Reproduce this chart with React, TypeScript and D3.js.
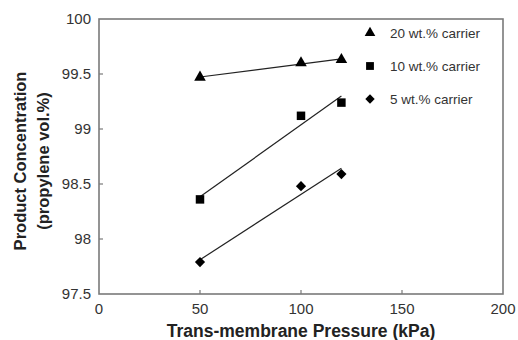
import React from "react";
import * as d3 from "d3";

const pressure = [50, 100, 120];
const series = [
  { name: "20 wt.% carrier", symbol: "triangle", values: [99.47, 99.6, 99.63] },
  { name: "10 wt.% carrier", symbol: "square", values: [98.36, 99.12, 99.24] },
  { name: "5 wt.% carrier", symbol: "diamond", values: [97.79, 98.48, 98.59] },
];
const xTicks = [0, 50, 100, 150, 200];
const yTicks = [97.5, 98, 98.5, 99, 99.5, 100];

const width = 518;
const height = 340;
const margin = { top: 19, right: 15, bottom: 46, left: 99 };

// least squares fit, as drawn in the original
function fit(xs: number[], ys: number[]) {
  const mx = d3.mean(xs)!;
  const my = d3.mean(ys)!;
  let sxy = 0;
  let sxx = 0;
  xs.forEach((x, i) => {
    sxy += (x - mx) * (ys[i] - my);
    sxx += (x - mx) * (x - mx);
  });
  const b = sxy / sxx;
  return (x: number) => my + b * (x - mx);
}

// marker path + extra rotation (diamond = square turned 45deg)
function marker(kind: string, scale: number) {
  if (kind === "square") return { d: d3.symbol(d3.symbolSquare, 72 * scale)() || "", rot: 0 };
  if (kind === "diamond") return { d: d3.symbol(d3.symbolSquare, 52 * scale)() || "", rot: 45 };
  return { d: d3.symbol(d3.symbolTriangle, 58 * scale)() || "", rot: 0 };
}

export default function App() {
  const x = d3.scaleLinear().domain([0, 200]).range([margin.left, width - margin.right]);
  const y = d3.scaleLinear().domain([97.5, 100]).range([height - margin.bottom, margin.top]);
  const line = d3.line<[number, number]>().x((d) => x(d[0])).y((d) => y(d[1]));
  const font = "Arial, 'Liberation Sans', sans-serif";

  return (
    <svg
      width={width}
      height={height}
      style={{ position: "absolute", left: 0, top: 0, background: "#fff" }}
      fontFamily={font}
    >
      <rect
        x={x(0)}
        y={y(100)}
        width={x(200) - x(0)}
        height={y(97.5) - y(100)}
        fill="none"
        stroke="#7a7a7a"
        strokeWidth={1.6}
      />
      {xTicks.map((t) => (
        <g key={"x" + t}>
          {t > 0 && t < 200 && (
            <line x1={x(t)} x2={x(t)} y1={y(97.5)} y2={y(97.5) - 4} stroke="#7a7a7a" strokeWidth={1.2} />
          )}
          <text x={x(t)} y={314} textAnchor="middle" fontSize={15} fill="#333">
            {t}
          </text>
        </g>
      ))}
      {yTicks.map((t) => (
        <g key={"y" + t}>
          {t > 97.5 && t < 100 && (
            <line x1={x(0)} x2={x(0) + 4} y1={y(t)} y2={y(t)} stroke="#7a7a7a" strokeWidth={1.2} />
          )}
          <text x={91} y={y(t)} dy="0.35em" textAnchor="end" fontSize={15} fill="#333">
            {t}
          </text>
        </g>
      ))}
      {series.map((s) => {
        const f = fit(pressure, s.values);
        const x0 = pressure[0];
        const x1 = pressure[pressure.length - 1];
        const m = marker(s.symbol, 1);
        return (
          <g key={s.name}>
            <path d={line([[x0, f(x0)], [x1, f(x1)]]) || ""} stroke="#222" strokeWidth={1.2} fill="none" />
            {pressure.map((p, i) => (
              <path
                key={p}
                d={m.d}
                transform={`translate(${x(p)},${y(s.values[i])}) rotate(${m.rot})`}
                fill="#000"
              />
            ))}
          </g>
        );
      })}
      {series.map((s, i) => {
        const m = marker(s.symbol, 0.85);
        const ly = 33 + i * 33;
        return (
          <g key={"l" + s.name}>
            <path d={m.d} transform={`translate(370,${ly}) rotate(${m.rot})`} fill="#000" />
            <text x={390} y={ly} dy="0.35em" fontSize={13.5} fill="#333">
              {s.name}
            </text>
          </g>
        );
      })}
      <text x={301} y={337} textAnchor="middle" fontSize={17.5} fontWeight="bold" fill="#222">
        Trans-membrane Pressure (kPa)
      </text>
      <text
        transform="translate(26,161) rotate(-90)"
        textAnchor="middle"
        fontSize={16.5}
        fontWeight="bold"
        fill="#222"
      >
        Product Concentration
      </text>
      <text
        transform="translate(49,161) rotate(-90)"
        textAnchor="middle"
        fontSize={16.5}
        fontWeight="bold"
        fill="#222"
      >
        (propylene vol.%)
      </text>
    </svg>
  );
}
